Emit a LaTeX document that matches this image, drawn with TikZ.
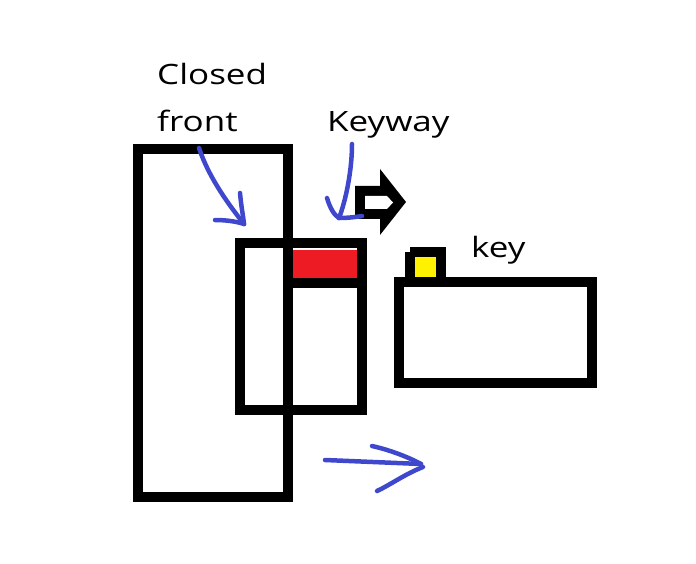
\documentclass[tikz,border=0pt]{standalone}
\usepackage{fontspec}
\newfontfamily\lblfont[FakeStretch=1.25]{Open Sans}
\definecolor{pen}{HTML}{3F48CC}
\definecolor{keyred}{HTML}{ED1C24}
\definecolor{keyyel}{HTML}{FFF200}
\begin{document}
\begin{tikzpicture}[x=1pt,y=-1pt,
  wall/.style={draw=black,line width=10pt,line join=miter},
  pen/.style={draw=pen,line width=4.5pt,line cap=round,line join=round},
  lbl/.style={anchor=base west,inner sep=0pt,font=\lblfont\fontsize{28}{32}\selectfont}]
\useasboundingbox (0,0) rectangle (696,564);
% fills
\fill[keyred] (290,250) rectangle (358,278);
\fill[keyyel] (414,256) rectangle (437,277);
% lock body
\draw[wall] (138,149) rectangle (288,497);
\draw[wall] (240,243) rectangle (362,410);
\draw[wall] (288,282.5) -- (362,282.5);
% key
\draw[wall] (399,282) rectangle (592,383);
\draw[wall] (410,252) -- (410,282) (441,282) -- (441,252) -- (410,252);
% block arrow
\fill[black] (355,186) -- (380,186) -- (380,169) -- (406,202) -- (380,235) -- (380,219) -- (355,219) -- cycle;
\fill[white] (365,196) -- (387,196) -- (393,202.5) -- (387,209) -- (365,209) -- cycle;
% labels
\node[lbl] (closed) at (157,85) {Closed};
\node[lbl] (front) at (157,132) {front};
\node[lbl] (keyway) at (327,132) {Keyway};
\node[lbl] (key) at (471,257) {key};
% hand-drawn arrows
\coordinate (a1s) at (199,148);
\coordinate (a1t) at (244,224);
\draw[pen] (a1s) .. controls (208,175) and (225,200) .. (a1t);
\draw[pen] (240,193) .. controls (241,205) and (243,215) .. (a1t);
\draw[pen] (215,220) .. controls (228,220) and (238,222) .. (a1t);
\coordinate (a2s) at (352,144);
\coordinate (a2t) at (339,218);
\draw[pen] (a2s) .. controls (352,170) and (346,200) .. (a2t);
\draw[pen] (327,198) .. controls (330,208) and (334,215) .. (a2t);
\draw[pen] (a2t) .. controls (348,218) and (356,217) .. (362,216);
\coordinate (a3s) at (325,460);
\coordinate (a3t) at (421,464);
\draw[pen] (a3s) -- (a3t);
\draw[pen] (372,446) .. controls (390,450) and (408,457) .. (a3t);
\draw[pen] (423,467) .. controls (405,474) and (390,485) .. (377,491);
\end{tikzpicture}
\end{document}
